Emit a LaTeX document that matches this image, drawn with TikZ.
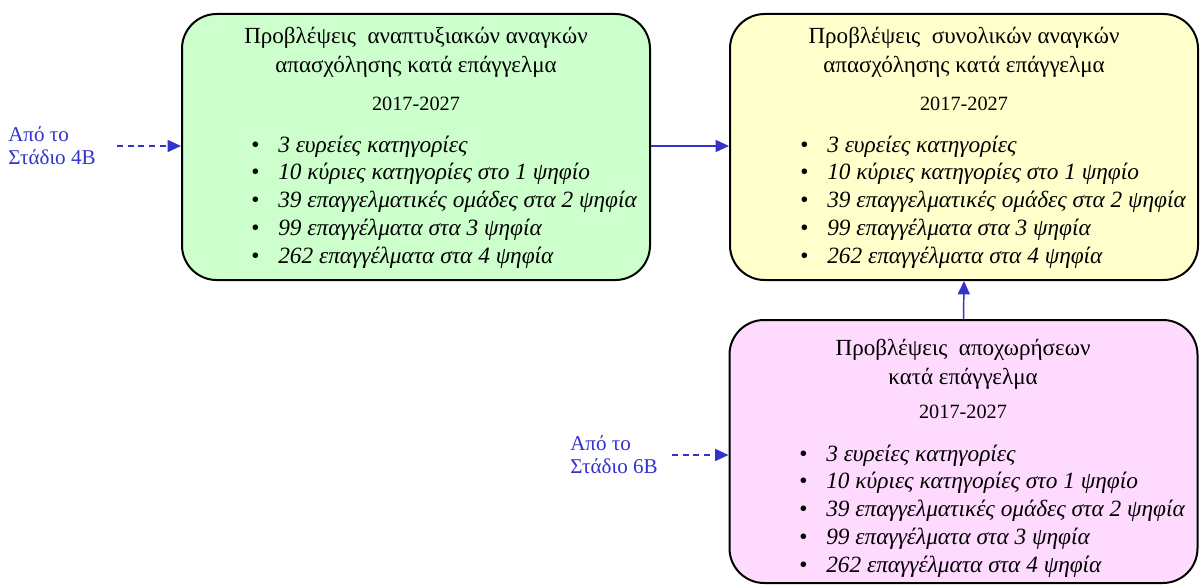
\documentclass[tikz,border=0pt]{standalone}
\usepackage{fontspec}
\setmainfont{Liberation Serif}
\usetikzlibrary{arrows.meta,positioning}
\definecolor{devgreen}{HTML}{CCFFCC}
\definecolor{totyellow}{HTML}{FFFFCC}
\definecolor{retpink}{HTML}{FFDAFF}
\definecolor{flowblue}{HTML}{3333CC}
\newcommand{\itm}[1]{\makebox[20.25pt][l]{\textbullet}\textit{#1}}

\begin{document}
\begin{tikzpicture}[x=0.75pt, y=-0.75pt,
    stage/.style={draw=black, line width=1.5pt, rounded corners=26pt,
      minimum width=351pt, minimum height=199.5pt, inner sep=0pt},
    heading/.style={align=center, inner sep=0pt, anchor=base,
      font=\fontsize{17.3}{21.75}\selectfont},
    years/.style={inner sep=0pt, anchor=base,
      font=\fontsize{15.2}{18}\selectfont},
    items/.style={align=left, inner sep=0pt, anchor=base west,
      font=\fontsize{17.5}{20.8}\selectfont},
    source/.style={align=left, inner sep=0pt, anchor=west, text=flowblue,
      font=\fontsize{15.8}{17.25}\selectfont},
    flow/.style={draw=flowblue, line width=1.1pt,
      -{Triangle[length=10pt, width=9pt]}},
    feed/.style={flow, dash pattern=on 4.5pt off 3.5pt}]
  \useasboundingbox (0,0) rectangle (1203,585);
  % Boxes
  \node[stage, fill=devgreen] (dev) at (416, 147) {};
  \node[stage, fill=totyellow] (tot) at (964, 147) {};
  \node[stage, fill=retpink, minimum height=197.25pt] (ret) at (963.5, 451.5) {};
  % Development needs (base = last line)
  \node[heading] (devtitle) at (416, 73)
    {Προβλέψεις\ \ αναπτυξιακών αναγκών\\απασχόλησης κατά επάγγελμα};
  \node[years] (devyears) at (416, 110) {2017-2027};
  \node[items] (devlist) at (251, 263)
    {\itm{3 ευρείες κατηγορίες}\\
     \itm{10 κύριες κατηγορίες στο 1 ψηφίο}\\
     \itm{39 επαγγελματικές ομάδες στα 2 ψηφία}\\
     \itm{99 επαγγέλματα στα 3 ψηφία}\\
     \itm{262 επαγγέλματα στα 4 ψηφία}};
  % Total needs
  \node[heading] (tottitle) at (964, 73)
    {Προβλέψεις\ \ συνολικών αναγκών\\απασχόλησης κατά επάγγελμα};
  \node[years] (totyears) at (964, 110) {2017-2027};
  \node[items] (totlist) at (800, 263)
    {\itm{3 ευρείες κατηγορίες}\\
     \itm{10 κύριες κατηγορίες στο 1 ψηφίο}\\
     \itm{39 επαγγελματικές ομάδες στα 2 ψηφία}\\
     \itm{99 επαγγέλματα στα 3 ψηφία}\\
     \itm{262 επαγγέλματα στα 4 ψηφία}};
  % Retirements
  \node[heading] (rettitle) at (963, 384)
    {Προβλέψεις\ \ αποχωρήσεων\\κατά επάγγελμα};
  \node[years] (retyears) at (963, 418) {2017-2027};
  \node[items] (retlist) at (799, 572)
    {\itm{3 ευρείες κατηγορίες}\\
     \itm{10 κύριες κατηγορίες στο 1 ψηφίο}\\
     \itm{39 επαγγελματικές ομάδες στα 2 ψηφία}\\
     \itm{99 επαγγέλματα στα 3 ψηφία}\\
     \itm{262 επαγγέλματα στα 4 ψηφία}};
  % Inputs from earlier stages
  \node[source] (from4b) at (8, 146) {Από το\\Στάδιο 4Β};
  \node[source] (from6b) at (570, 455) {Από το\\Στάδιο 6Β};
  \coordinate (in4b) at (117, 146);
  \coordinate (in6b) at (672, 455);
  \draw[feed] (in4b) -- (dev.west |- in4b);
  \draw[feed] (in6b) -- (ret.west |- in6b);
  % Links
  \draw[flow] (dev.east |- 0,146) -- (tot.west |- 0,146);
  \draw[flow] (ret.north) -- (tot.south);
\end{tikzpicture}
\end{document}
